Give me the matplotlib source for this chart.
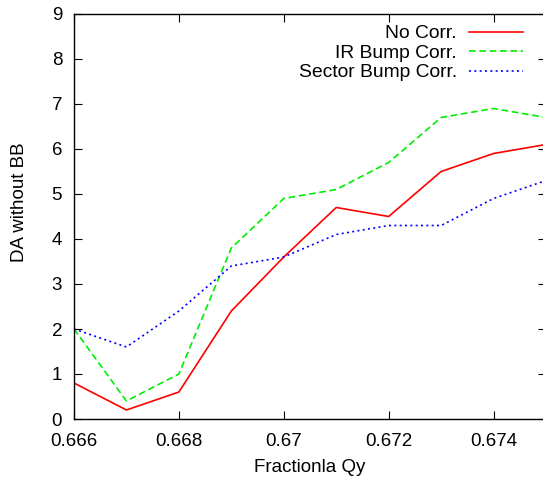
import numpy as np
import matplotlib
matplotlib.use("Agg")
import matplotlib.pyplot as plt

plt.rcParams['font.family'] = ['Liberation Sans', 'DejaVu Sans']
plt.rcParams['font.size'] = 13.5

qy = [0.666, 0.667, 0.668, 0.669, 0.670, 0.671, 0.672, 0.673, 0.674, 0.675]
no_corr = [0.8, 0.2, 0.6, 2.4, 3.6, 4.7, 4.5, 5.5, 5.9, 6.1]
ir_bump = [2.0, 0.4, 1.0, 3.8, 4.9, 5.1, 5.7, 6.7, 6.9, 6.7]
sector_bump = [2.0, 1.6, 2.4, 3.4, 3.6, 4.1, 4.3, 4.3, 4.9, 5.3]

xticks = [0.666, 0.668, 0.670, 0.672, 0.674]
xtick_labels = ['0.666', '0.668', '0.67', '0.672', '0.674']

fig = plt.figure(figsize=(5.43, 4.83), dpi=100)
ax = fig.add_axes([74/543, 64/483, 472/543, 405/483])

ax.plot(qy, no_corr, color='#ff0000', lw=1.2, label='No Corr.')
ax.plot(qy, ir_bump, color='#00ee00', lw=1.2, dashes=(4.0, 2.2), label='IR Bump Corr.')
ax.plot(qy, sector_bump, color='#0000ff', lw=1.2, dashes=(1.2, 2.0), label='Sector Bump Corr.')

ax.set_xlim(0.666, 0.675)
ax.set_ylim(0, 9)
ax.set_xticks(xticks)
ax.set_xticklabels(xtick_labels)
ax.set_yticks(range(0, 10))
ax.tick_params(direction='in', length=6, width=0.8, top=True, right=True)
ax.tick_params(axis='x', pad=10)
ax.tick_params(axis='y', pad=8.5)
for s in ax.spines.values():
    s.set_linewidth(1.0)

ax.set_xlabel('Fractionla Qy')
ax.set_ylabel('DA without BB')
ax.xaxis.set_label_coords(0.5, -0.099)
ax.yaxis.set_label_coords(-0.097, 0.536)

# markerfirst=False puts the samples on the right and right-aligns the entries
ax.legend(loc='upper right', bbox_to_anchor=(0.9506, 0.973), frameon=False,
          markerfirst=False, handlelength=2.8, handletextpad=0.62,
          borderpad=0, borderaxespad=0, labelspacing=0.1, fontsize=13.9)

fig.savefig('out.png', dpi=100)
